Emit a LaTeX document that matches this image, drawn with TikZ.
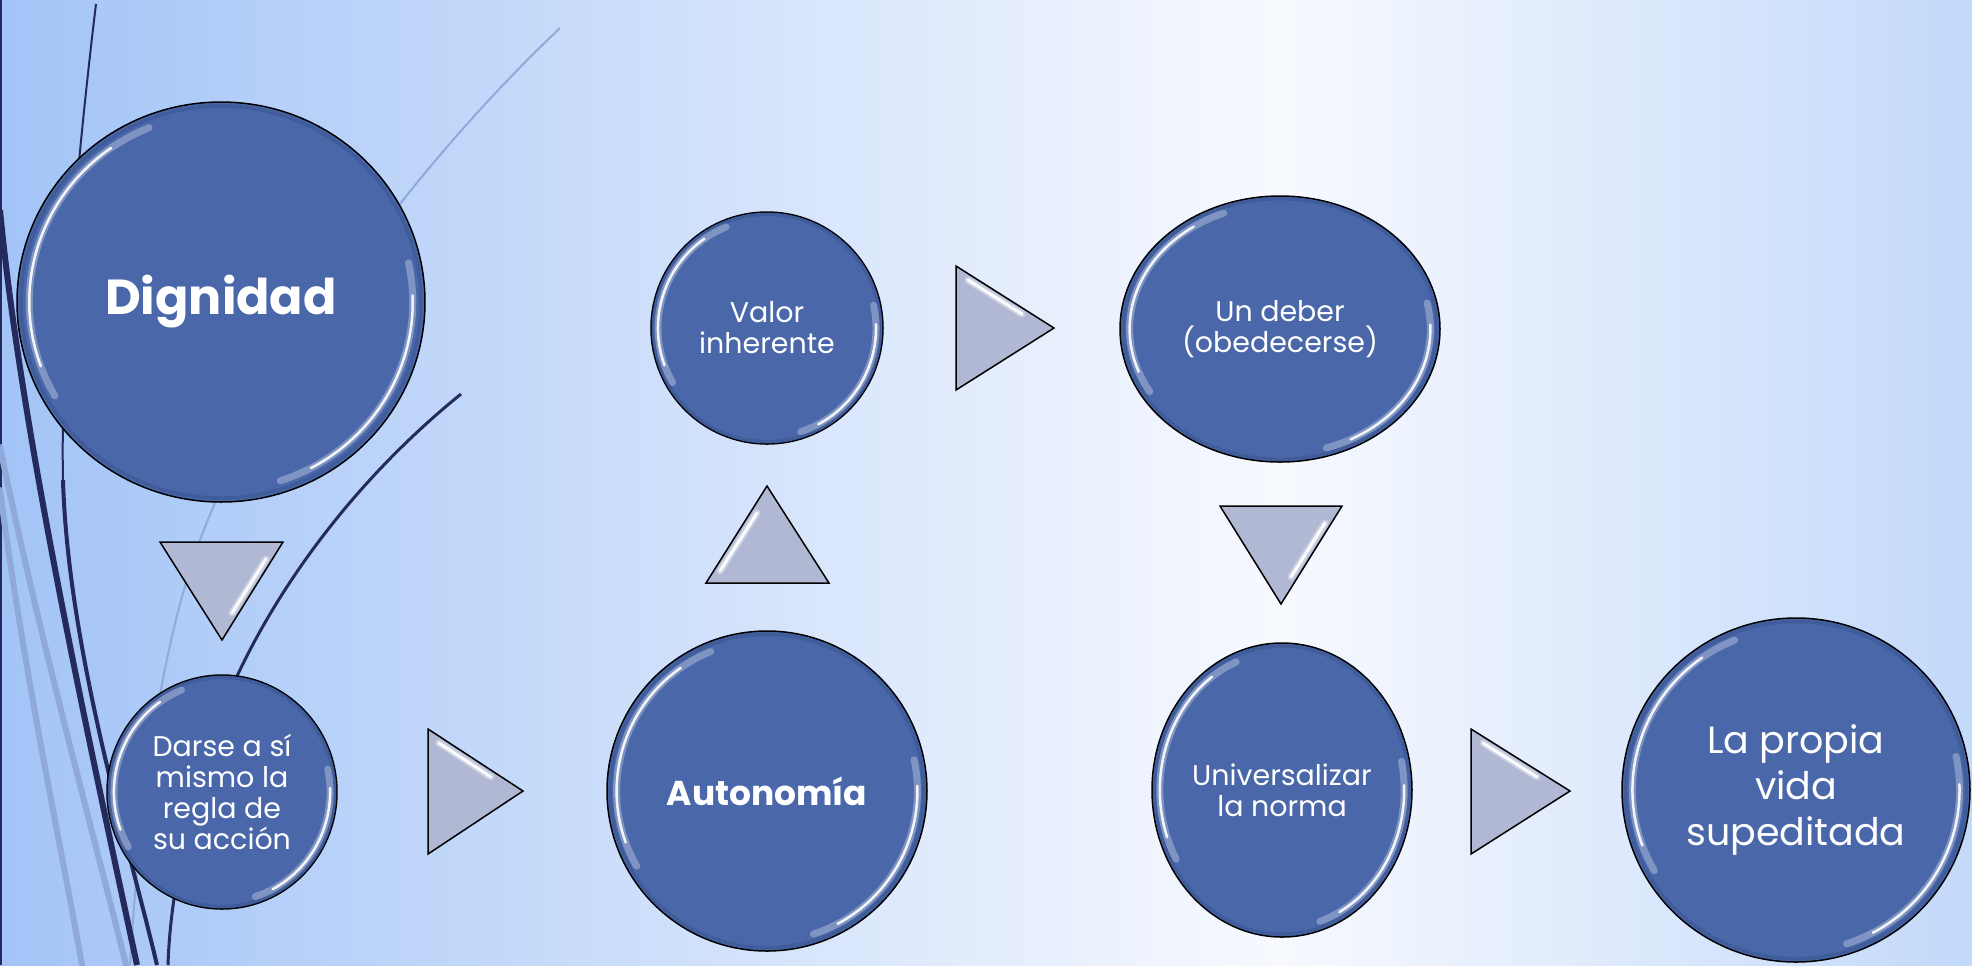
\documentclass[tikz,border=0pt]{standalone}
\usepackage{fontspec}
\setmainfont{Poppins}
\usetikzlibrary{shapes.geometric}
\definecolor{bgL}{HTML}{A3C4F7}
\definecolor{bgM}{HTML}{F7F9FE}
\definecolor{bgR}{HTML}{C3D9FA}
\definecolor{navy}{HTML}{252A5C}
\definecolor{pale}{HTML}{8FA9DB}
\definecolor{bubfill}{HTML}{4967A9}
\definecolor{bubrim}{HTML}{3B5592}
\definecolor{trifill}{HTML}{B0B8D3}
\tikzset{
  bub/.style={ellipse, draw=black, line width=0.15mm, fill=bubfill, inner sep=0pt, text=white, align=center},
  hlsoft/.style={white, line width=0.7mm, opacity=0.3, line cap=round},
  hl/.style={white, line width=0.25mm, opacity=0.9, line cap=round},
  tri/.style={draw=black, line width=0.15mm, fill=trifill, line join=miter},
  streaksoft/.style={white, line width=0.7mm, line cap=round, opacity=0.35},
  streak/.style={white, line width=0.3mm, line cap=round, opacity=0.95},
  small/.style={font=\fontsize{8.1}{8.8}\selectfont},
  deco/.style={line cap=round},
}
\newcommand\Bubble[7]{% name, x, y, rx, ry, style, text
  \node[bub, minimum width={0.2mm*#4}, minimum height={0.2mm*#5}, #6] (#1) at (#2,#3) {#7};
  \pgfmathsetlengthmacro\hlrx{0.094mm*#4}%
  \pgfmathsetlengthmacro\hlry{0.094mm*#5}%
  \pgfmathsetlengthmacro\rmrx{0.098mm*#4}%
  \pgfmathsetlengthmacro\rmry{0.098mm*#5}%
  \draw[bubrim, line width=0.35mm, opacity=0.6] (#1.center) ellipse[x radius=\rmrx, y radius=\rmry];
  \draw[hlsoft] (#1.center) ++(112:{\hlrx} and {\hlry}) arc[start angle=112, end angle=210, x radius=\hlrx, y radius=\hlry];
  \draw[hl] (#1.center) ++(125:{\hlrx} and {\hlry}) arc[start angle=125, end angle=200, x radius=\hlrx, y radius=\hlry];
  \draw[hlsoft] (#1.center) ++(-72:{\hlrx} and {\hlry}) arc[start angle=-72, end angle=12, x radius=\hlrx, y radius=\hlry];
  \draw[hl] (#1.center) ++(-62:{\hlrx} and {\hlry}) arc[start angle=-62, end angle=2, x radius=\hlrx, y radius=\hlry];
}
\newcommand\Streak[4]{%
  \draw[streaksoft] (#1,#2) -- (#3,#4);
  \draw[streak] (#1,#2) -- (#3,#4);
}
\begin{document}
\begin{tikzpicture}[x=0.1mm,y=-0.1mm]
\useasboundingbox (0,0) rectangle (1972,965);
% background
\shade[left color=bgL, right color=bgM] (0,0) rectangle (1280,965);
\shade[left color=bgM, right color=bgR] (1280,0) rectangle (1972,965);
% decorative curves
\draw[navy, line width=0.25mm] (1,0) -- (1,965);
\draw[pale, line width=0.6mm, deco] (0,447) .. controls (40,640) and (90,820) .. (126,965);
\draw[pale, line width=0.6mm, deco] (0,490) .. controls (25,680) and (60,840) .. (82,965);
\draw[pale, line width=0.2mm] (560,28) .. controls (400,180) and (260,380) .. (200,540) .. controls (160,650) and (140,800) .. (130,965);
\draw[navy, line width=0.6mm] (0,210) .. controls (20,420) and (80,700) .. (137,965);
\draw[navy, line width=0.2mm] (96,4) .. controls (82,120) and (60,330) .. (63,480);
\draw[navy, line width=0.4mm] (63,480) .. controls (68,650) and (130,850) .. (157,965);
\draw[navy, line width=0.3mm] (461,394) .. controls (330,500) and (240,640) .. (205,760) .. controls (185,830) and (170,900) .. (168,965);
% arrows (triangles)
\draw[tri] (160,542) -- (283,542) -- (222,640) -- cycle;
\Streak{266}{559}{232}{613}
\draw[tri] (428,729) -- (523,791) -- (428,854) -- cycle;
\Streak{439}{743}{491}{777}
\draw[tri] (706,583) -- (767,486) -- (829,583) -- cycle;
\Streak{757}{513}{720}{571}
\draw[tri] (956,266) -- (1054,328) -- (956,390) -- cycle;
\Streak{968}{280}{1022}{314}
\draw[tri] (1220,506) -- (1342,506) -- (1281,604) -- cycle;
\Streak{1325}{523}{1291}{577}
\draw[tri] (1471,729) -- (1570,791) -- (1471,854) -- cycle;
\Streak{1483}{743}{1537}{777}
% bubbles
\Bubble{dig}{221}{302}{204}{200}{font=\fontsize{14}{17}\selectfont\bfseries}{Dignidad}
\Bubble{darse}{222}{792}{115}{117}{small}{Darse a sí\\mismo la\\regla de\\su acción}
\Bubble{auto}{767}{791}{160}{160}{font=\fontsize{9.8}{12}\selectfont\bfseries}{Autonomía}
\Bubble{valor}{767}{328}{116}{116}{small}{Valor\\inherente}
\Bubble{deber}{1280}{329}{160}{133}{small}{Un deber\\(obedecerse)}
\Bubble{univ}{1282}{790}{130}{147}{small}{Universalizar\\la norma}
\Bubble{vida}{1796}{790}{174}{172}{font=\fontsize{10.8}{13.2}\selectfont}{La propia\\vida\\supeditada}
\end{tikzpicture}
\end{document}
